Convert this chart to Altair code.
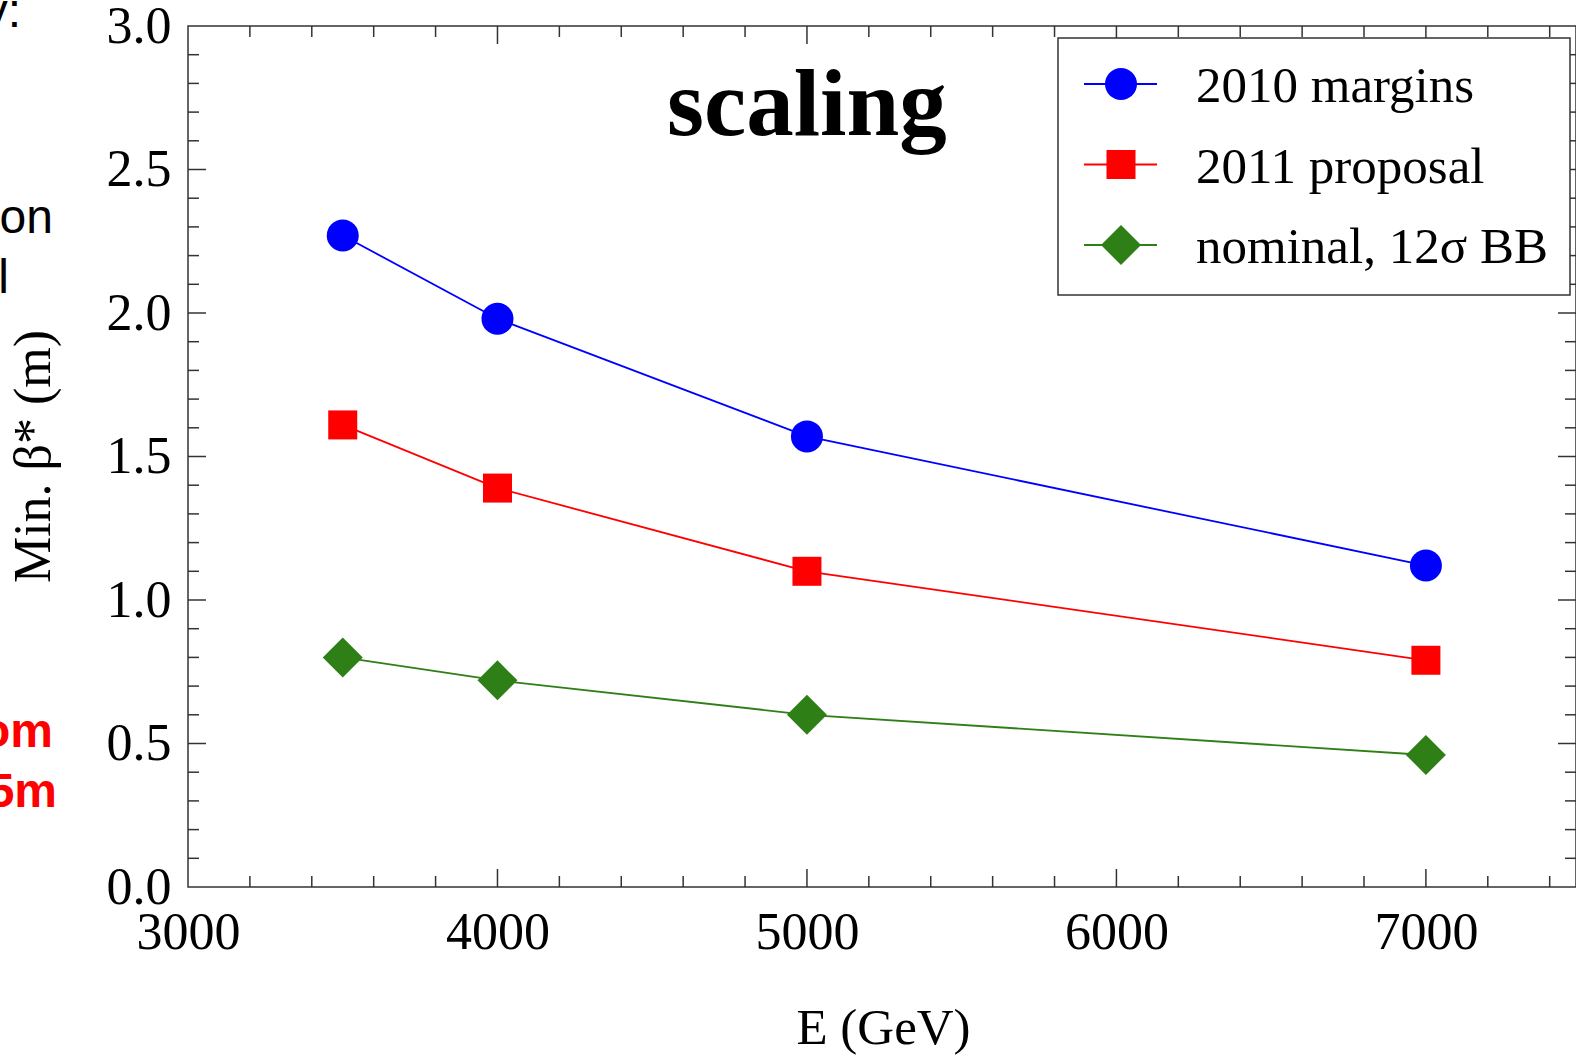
import altair as alt
import pandas as pd

# ---- data ----
energy = [3500, 4000, 5000, 7000]
margins_2010 = [2.27, 1.98, 1.57, 1.12]
proposal_2011 = [1.61, 1.39, 1.10, 0.79]
nominal_12sigma = [0.80, 0.72, 0.60, 0.46]

series_names = ["2010 margins", "2011 proposal", "nominal, 12σ BB"]
series_colors = ["#0000FF", "#FF0000", "#2F7F17"]
series_shapes = ["circle", "square", "diamond"]
series_sizes = [1024, 841, 1600]

x_label_values = [3000, 4000, 5000, 6000, 7000]
x_major_ticks = [4000, 5000, 6000, 7000]
x_minor_ticks = [3200, 3400, 3600, 3800, 4200, 4400, 4600, 4800, 5200, 5400,
                 5600, 5800, 6200, 6400, 6600, 6800, 7200, 7400]
y_label_values = [0.0, 0.5, 1.0, 1.5, 2.0, 2.5, 3.0]
y_major_ticks = [0.5, 1.0, 1.5, 2.0, 2.5]
y_minor_ticks = [0.1, 0.2, 0.3, 0.4, 0.6, 0.7, 0.8, 0.9, 1.1, 1.2, 1.3, 1.4,
                 1.6, 1.7, 1.8, 1.9, 2.1, 2.2, 2.3, 2.4, 2.6, 2.7, 2.8, 2.9]

annotation_text = ["scaling"]
annotation_x = [5000]
annotation_y = [2.62]

x_title = "E (GeV)"
y_title = "Min. β* (m)"

# ---- layout ----
W, H = 1388, 861
FRAME = "#333333"
SERIF = "Liberation Serif"

df = pd.DataFrame({
    "E": energy * 3,
    "beta": margins_2010 + proposal_2011 + nominal_12sigma,
    "series": [n for n in series_names for _ in energy],
})

xs = alt.Scale(domain=[3000, 7485], nice=False, zero=False)
ys = alt.Scale(domain=[0, 3], nice=False, zero=False)
cs = alt.Scale(domain=series_names, range=series_colors)

x_axis = alt.Axis(values=x_label_values, format="d", ticks=False, domain=False, grid=False,
                  labelFont=SERIF, labelFontSize=52, labelColor="black", labelPadding=20,
                  labelFlush=False, labelOverlap=False,
                  title=x_title, titleFont=SERIF, titleFontSize=51, titleFontWeight="normal",
                  titleColor="black", titleBaseline="alphabetic", titleX=695, titleY=156,
                  titleAlign="center")
y_axis = alt.Axis(values=y_label_values, format=".1f", ticks=False, domain=False, grid=False,
                  labelFont=SERIF, labelFontSize=52, labelColor="black", labelPadding=17,
                  labelFlush=False, labelOverlap=False,
                  title=y_title, titleFont=SERIF, titleFontSize=52, titleFontWeight="normal",
                  titleColor="black", titleBaseline="alphabetic", titleX=-139, titleY=430,
                  titleAlign="center", titleAngle=270)


def X(field):
    return alt.X(field, scale=xs, axis=x_axis)


def Y(field):
    return alt.Y(field, scale=ys, axis=y_axis)


lines = alt.Chart(df).mark_line(strokeWidth=1.8).encode(
    x=X("E:Q"), y=Y("beta:Q"),
    color=alt.Color("series:N", scale=cs, legend=None),
)

point_layers = []
for name, col, shp, sz in zip(series_names, series_colors, series_shapes, series_sizes):
    point_layers.append(
        alt.Chart(df).transform_filter(alt.datum.series == name)
        .mark_point(filled=True, opacity=1, strokeWidth=0, shape=shp, size=sz, color=col)
        .encode(x=X("E:Q"), y=Y("beta:Q"))
    )

annot = alt.Chart(pd.DataFrame({"t": annotation_text, "E": annotation_x, "beta": annotation_y})).mark_text(
    font=SERIF, fontWeight="bold", fontSize=95, baseline="alphabetic", align="center", color="black"
).encode(x=X("E:Q"), y=Y("beta:Q"), text="t:N")


def tick_layer(values, channel, length, side):
    base = alt.Chart(pd.DataFrame({"E": values, "beta": values})).mark_rule(color=FRAME, strokeWidth=1.5)
    if channel == "x":
        if side == "bottom":
            y0, y1 = H, H - length
        else:
            y0, y1 = 0, length
        return base.encode(x=X("E:Q"), y=alt.value(y0), y2=alt.value(y1))
    if side == "left":
        x0, x1 = 0, length
    else:
        x0, x1 = W, W - length
    return base.encode(y=Y("beta:Q"), x=alt.value(x0), x2=alt.value(x1))


ticks = []
for side in ["bottom", "top"]:
    ticks.append(tick_layer(x_major_ticks, "x", 18, side))
    ticks.append(tick_layer(x_minor_ticks, "x", 11, side))
for side in ["left", "right"]:
    ticks.append(tick_layer(y_major_ticks, "y", 18, side))
    ticks.append(tick_layer(y_minor_ticks, "y", 11, side))

# ---- legend (boxed, line stub + marker + label per series) ----
one = pd.DataFrame({"a": [0]})
LX0, LX1, LY0, LY1 = 870, 1382, 12, 269
legend_layers = [
    alt.Chart(one).mark_rect(fill="white", stroke=FRAME, strokeWidth=1.5).encode(
        x=alt.value(LX0), x2=alt.value(LX1), y=alt.value(LY0), y2=alt.value(LY1))
]
for i, (name, col, shp, sz) in enumerate(zip(series_names, series_colors, series_shapes, series_sizes)):
    cy = 58 + i * 80.5
    legend_layers.append(
        alt.Chart(one).mark_rule(color=col, strokeWidth=2).encode(
            x=alt.value(896), x2=alt.value(969), y=alt.value(cy)))
    legend_layers.append(
        alt.Chart(one).mark_point(filled=True, opacity=1, strokeWidth=0, shape=shp, size=sz, color=col)
        .encode(x=alt.value(933), y=alt.value(cy)))
    legend_layers.append(
        alt.Chart(one).mark_text(text=name, font=SERIF, fontSize=51, color="black",
                                 align="left", baseline="alphabetic")
        .encode(x=alt.value(1008), y=alt.value(cy + 18)))

# leftover slide text fragments visible at the left edge of the picture
fragments = [
    ("y:", -167, 1, "black", "normal"),
    ("on", -135, 207, "black", "normal"),
    ("l", -179, 267, "black", "normal"),
    ("om", -135, 721, "#FF0000", "bold"),
    ("5m", -131, 781, "#FF0000", "bold"),
]
frag_layers = []
for txt, fx, fy, col, wt in fragments:
    frag_layers.append(
        alt.Chart(one).mark_text(
            text=txt, font="Liberation Sans", fontSize=48, fontWeight=wt, color=col,
            align="right", baseline="alphabetic"
        ).encode(x=alt.value(fx), y=alt.value(fy))
    )

chart = alt.layer(lines, *ticks, *point_layers, annot, *legend_layers, *frag_layers).properties(
    width=W, height=H,
    autosize=alt.AutoSizeParams(type="none"),
    padding={"left": 188, "top": 26, "right": 0, "bottom": 172},
    background="white",
).configure_view(stroke=FRAME, strokeWidth=1.5)

chart.save("out.html", embed_options={"renderer": "svg", "actions": False})
